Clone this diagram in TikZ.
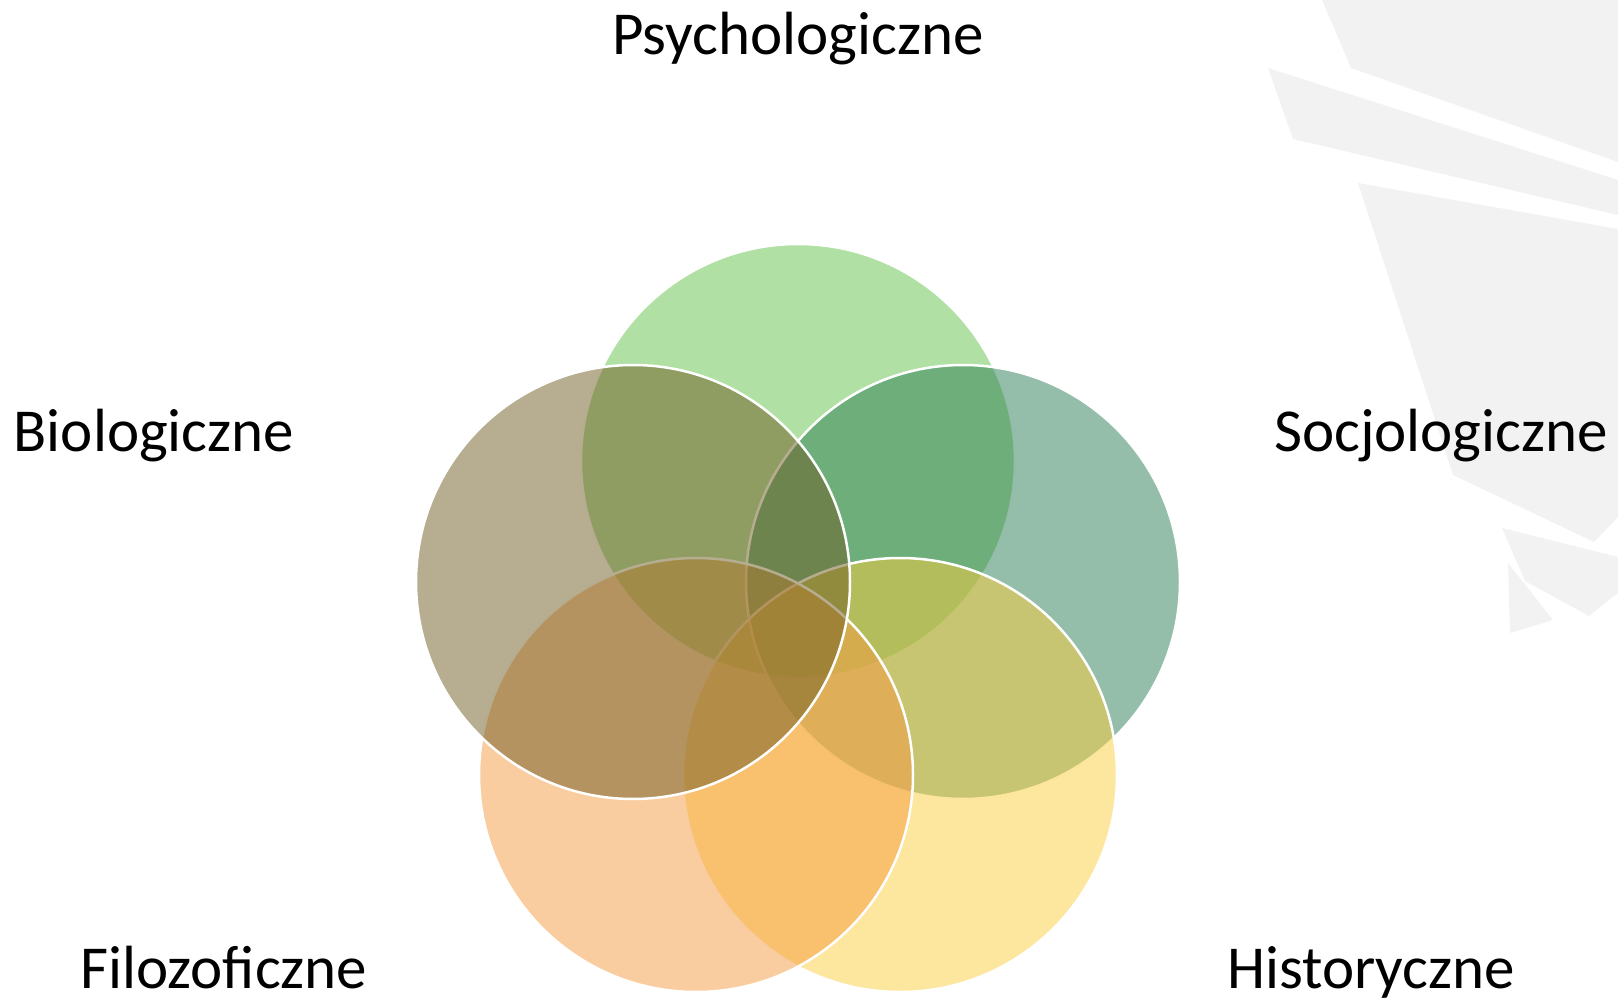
\documentclass[tikz,border=0pt]{standalone}
\usepackage{fontspec}
\setmainfont{Carlito}
\definecolor{cpsy}{RGB}{97,193,71}
\definecolor{csoc}{RGB}{43,125,85}
\definecolor{chis}{RGB}{251,205,59}
\definecolor{cfil}{RGB}{245,155,65}
\definecolor{cbio}{RGB}{111,91,35}
\definecolor{bgshape}{RGB}{242,242,242}
\begin{document}
\begin{tikzpicture}[x=1pt,y=-1pt,
  venn/.style={circle, minimum size=434pt, inner sep=0pt, draw=white, line width=2.5pt, fill opacity=0.5},
  lbl/.style={font=\fontsize{61}{73}\selectfont, inner sep=0pt, anchor=base},
  deco/.style={fill=bgshape, draw=none}]
\useasboundingbox (0,0) rectangle (1618,1003);
% background decorative shapes
\fill[deco] (1322,0) -- (1351,68) -- (1618,162) -- (1618,0) -- cycle;
\fill[deco] (1268,68) -- (1618,180) -- (1618,215) -- (1293,139) -- cycle;
\fill[deco] (1358,183) -- (1618,229) -- (1618,517) -- (1594,542) -- (1453,475) -- cycle;
\fill[deco] (1502,528) -- (1618,557) -- (1618,593) -- (1589,616) -- (1525,581) -- cycle;
\fill[deco] (1508,563) -- (1553,620) -- (1510,633) -- cycle;
% circles
\node[venn, fill=cpsy] (psy) at (798,461) {};
\node[venn, fill=csoc] (soc) at (963,582) {};
\node[venn, fill=chis] (his) at (900,775) {};
\node[venn, fill=cfil] (fil) at (696,775) {};
\node[venn, fill=cbio] (bio) at (633,582) {};
% labels
\node[lbl] (tpsy) at (798,55) {Psychologiczne};
\node[lbl] (tbio) at (154,451) {Biologiczne};
\node[lbl] (tsoc) at (1441,451) {Socjologiczne};
\node[lbl] (tfil) at (224,988) {Filozoficzne};
\node[lbl] (this) at (1371,988) {Historyczne};
\end{tikzpicture}
\end{document}
